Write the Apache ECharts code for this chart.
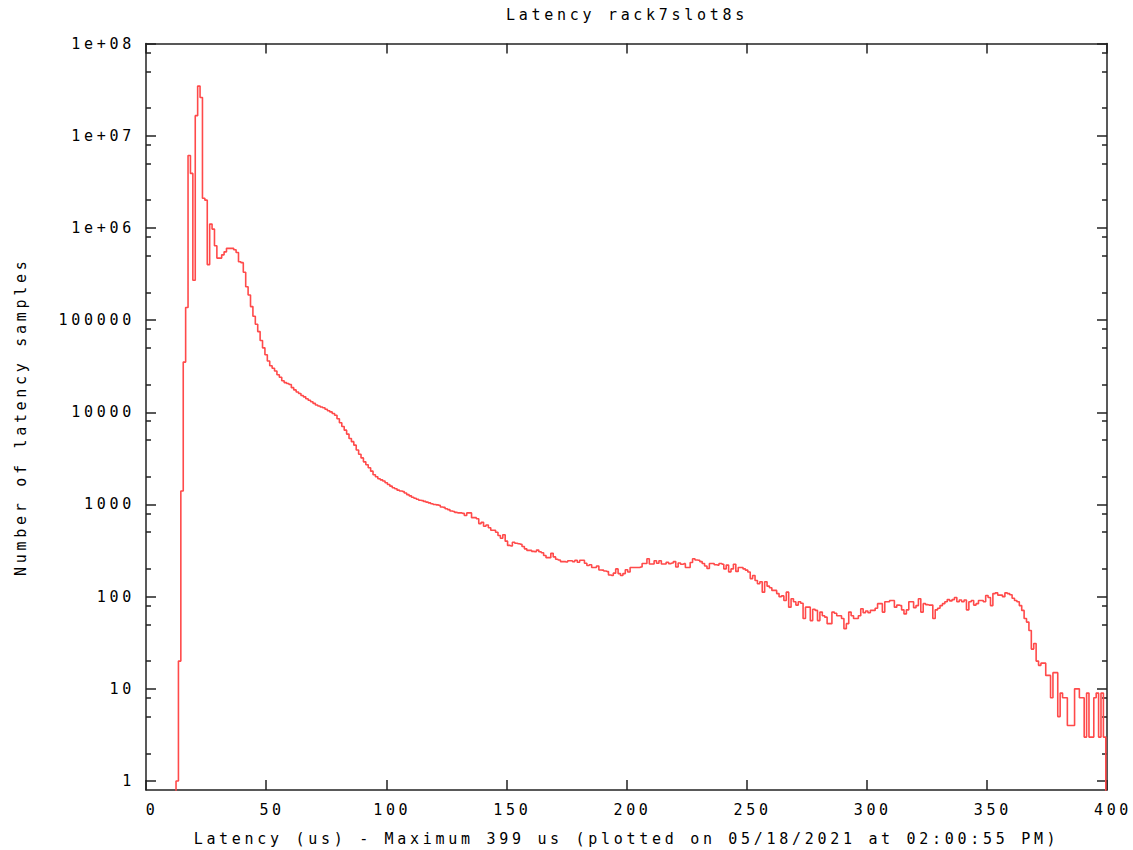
<!DOCTYPE html>
<html>
<head>
<meta charset="utf-8">
<script src="https://cdn.jsdelivr.net/npm/echarts@6/dist/echarts.min.js"></script>
<style>
html, body { margin: 0; padding: 0; background: #fff; }
#chart { width: 1133px; height: 850px; }
/* gnuplot's font is wide, stretch the mono font a bit */
#chart svg text { letter-spacing: 3.7px; }
</style>
</head>
<body>
<div id="chart"></div>
<script>
// samples per 1 us bin, index = latency in us (0..400)
const counts = [
  0, 0, 0, 0, 0, 0, 0, 0, 0, 0,
  0, 0, 0, 1, 20, 1400, 35000, 137000, 6100000, 3900000,
  270000, 16500000, 34500000, 26000000, 2100000, 2000000, 400000, 1100000, 970000, 640000,
  470000, 470000, 510000, 550000, 600000, 600000, 600000, 580000, 540000, 430000,
  420000, 330000, 230000, 187000, 140000, 110000, 90000, 75000, 60000, 50000,
  42000, 36000, 32000, 30000, 28000, 25500, 24000, 22000, 21000, 20500,
  20000, 18500, 17500, 16600, 16000, 15200, 14700, 14000, 13500, 13000,
  12500, 12000, 11700, 11400, 11200, 10800, 10400, 10100, 9700, 9300,
  8500, 7700, 7000, 6400, 5800, 5200, 4800, 4400, 3900, 3500,
  3200, 2900, 2700, 2500, 2300, 2100, 2000, 1900, 1850, 1800,
  1720, 1650, 1580, 1520, 1480, 1430, 1400, 1380, 1330, 1280,
  1240, 1200, 1170, 1140, 1110, 1100, 1080, 1060, 1040, 1020,
  1000, 990, 980, 940, 930, 900, 880, 850, 840, 820,
  810, 810, 800, 760, 810, 810, 720, 720, 700, 620,
  640, 580, 600, 560, 525, 525, 500, 460, 430, 470,
  400, 360, 355, 390, 380, 375, 370, 350, 330, 318,
  318, 310, 307, 320, 307, 300, 280, 265, 265, 295,
  270, 255, 250, 240, 240, 238, 245, 245, 240, 248,
  236, 248, 248, 230, 218, 222, 207, 207, 215, 195,
  194, 190, 187, 172, 170, 180, 200, 178, 170, 178,
  196, 185, 207, 207, 207, 207, 210, 229, 229, 258,
  226, 226, 245, 230, 245, 226, 226, 236, 228, 232,
  240, 210, 232, 225, 228, 207, 207, 235, 258, 250,
  248, 240, 229, 215, 202, 229, 229, 222, 220, 229,
  225, 200, 220, 186, 200, 225, 188, 207, 207, 200,
  194, 185, 157, 170, 150, 138, 145, 112, 145, 130,
  125, 117, 117, 108, 100, 102, 91, 112, 77, 95,
  88, 81, 88, 85, 58, 77, 77, 55, 73, 71,
  55, 68, 62, 60, 51, 51, 68, 66, 62, 62,
  58, 45, 51, 68, 62, 58, 58, 62, 74, 67,
  70, 67, 71, 71, 75, 84, 84, 68, 88, 88,
  91, 91, 77, 81, 80, 72, 65, 72, 88, 88,
  76, 80, 95, 68, 84, 82, 81, 81, 58, 72,
  75, 80, 84, 88, 93, 90, 93, 98, 88, 92,
  88, 92, 72, 88, 91, 81, 84, 91, 91, 88,
  103, 98, 80, 108, 110, 104, 104, 100, 110, 108,
  105, 96, 91, 88, 80, 71, 58, 53, 43, 27,
  31, 20, 18, 19, 19, 14, 14, 8, 15, 15,
  5, 9, 8, 8, 4, 4, 4, 10, 10, 8,
  8, 3, 9, 3, 3, 8, 9, 3, 9, 3,
  0
];

const yTickLabels = ['1', '10', '100', '1000', '10000', '100000', '1e+06', '1e+07', '1e+08'];
const yMinorSteps = [2, 5, 8];
const yRange = [0.8, 1e8];
const xRange = [0, 400];
const xStep = 50;

const titleText = 'Latency rack7slot8s';
const xName = 'Latency (us) - Maximum 399 us (plotted on 05/18/2021 at 02:00:55 PM)';
const yName = 'Number of latency samples';

// y is drawn on a log10 value axis; empty bins go below the frame and get clipped
const yLo = Math.log10(yRange[0]);
const yHi = Math.log10(yRange[1]);
const lineData = counts.map((c, i) => [i, c > 0 ? Math.log10(c) : yLo - 1]);
const majorVals = yTickLabels.map((_, i) => i);
const minorVals = [];
majorVals.forEach(e => yMinorSteps.forEach(m => {
  const v = e + Math.log10(m);
  if (v < yHi) minorVals.push(v);
}));

const font = { fontFamily: 'DejaVu Sans Mono', fontSize: 15, color: '#000' };
const frameStyle = { color: '#222', width: 1.5 };

function xAxis(pos, labels) {
  return {
    type: 'value', position: pos, min: xRange[0], max: xRange[1], interval: xStep,
    axisLine: { show: true, onZero: false, lineStyle: frameStyle },
    axisTick: { show: true, inside: true, length: 10, lineStyle: frameStyle },
    axisLabel: { show: labels, margin: 12, padding: [0, 0, 0, 12], ...font },
    splitLine: { show: false },
    name: labels ? xName : '', nameLocation: 'middle', nameGap: 41, nameTextStyle: font
  };
}

function yAxis(pos, vals, len, labels) {
  return {
    type: 'value', position: pos, min: yLo, max: yHi,
    axisLine: { show: len === 10, onZero: false, lineStyle: frameStyle },
    axisTick: { show: true, inside: true, length: len, customValues: vals, lineStyle: frameStyle },
    axisLabel: labels
      ? { show: true, margin: 11, customValues: majorVals, formatter: v => yTickLabels[Math.round(v)], ...font }
      : { show: false },
    splitLine: { show: false },
    name: labels ? yName : '', nameLocation: 'middle', nameGap: 118, nameTextStyle: font
  };
}

const chart = echarts.init(document.getElementById('chart'), null, { renderer: 'svg' });
chart.setOption({
  animation: false,
  backgroundColor: '#fff',
  title: {
    text: titleText, left: 622, top: 2, textAlign: 'center',
    textStyle: { ...font, fontWeight: 'normal' }
  },
  grid: { left: 146, right: 26, top: 43.5, bottom: 60, outerBoundsMode: 'none' },
  xAxis: [xAxis('bottom', true), xAxis('top', false)],
  yAxis: [
    yAxis('left', majorVals, 10, true),
    yAxis('right', majorVals, 10, false),
    yAxis('left', minorVals, 5, false),
    yAxis('right', minorVals, 5, false)
  ],
  series: [{
    type: 'line',
    xAxisIndex: 0,
    yAxisIndex: 0,
    data: lineData,
    step: 'middle',
    symbol: 'none',
    clip: true,
    lineStyle: { color: '#ff4a4a', width: 1.6 }
  }]
});
</script>
</body>
</html>
